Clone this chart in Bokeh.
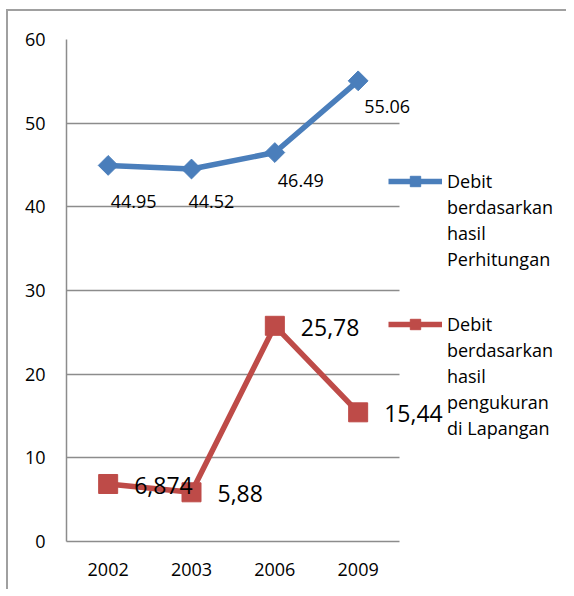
import math
from bokeh.plotting import figure
from bokeh.models import (ColumnDataSource, LabelSet, Legend, LegendItem, FixedTicker,
                          Range1d, Grid)
from bokeh.core.properties import value
from bokeh.embed import file_html
from bokeh.resources import INLINE

# ---- data ----
years = ["2002", "2003", "2006", "2009"]
perhitungan = [44.95, 44.52, 46.49, 55.06]
lapangan = [6.874, 5.88, 25.78, 15.44]
perhitungan_labels = ["44.95", "44.52", "46.49", "55.06"]
lapangan_labels = ["6,874", "5,88", "25,78", "15,44"]
legend_perhitungan = ["Debit", "berdasarkan", "hasil", "Perhitungan"]
legend_lapangan = ["Debit", "berdasarkan", "hasil", "pengukuran", "di Lapangan"]
y_ticks = [0, 10, 20, 30, 40, 50, 60]

# ---- label placement (screen-pixel offsets, style only) ----
blue_label_dx = [2.5, -3, 3, 6]
blue_label_dy = [-36, -32, -28, -26]

BLUE = "#4A7EBB"
RED = "#BE4B48"
GRID = "#8C8C8C"
FONT = "Open Sans"

n = len(years)
xs = [i + 0.5 for i in range(n)]          # category slots on the x scale
n_slots = n + 2                            # extra room on the right for the legend

p = figure(x_range=Range1d(0, n_slots), y_range=Range1d(0, 60),
           frame_width=500, frame_height=502,
           min_border_left=58, min_border_right=0,
           min_border_top=28, min_border_bottom=48,
           output_backend="svg", toolbar_location=None,
           background_fill_color="white", border_fill_color="white",
           styles={"margin-left": "6px", "margin-top": "9px",
                   "border-left": "2px solid #A0A0A0", "border-top": "2px solid #A0A0A0"})
p.outline_line_color = None

src_b = ColumnDataSource(dict(x=xs, y=perhitungan, t=perhitungan_labels,
                              dx=blue_label_dx, dy=blue_label_dy))
src_r = ColumnDataSource(dict(x=xs, y=lapangan, t=lapangan_labels))

# horizontal grid lines limited to the category area
p.xgrid.grid_line_color = None
if "cross_bounds" in Grid.properties():
    p.ygrid.ticker = FixedTicker(ticks=y_ticks)
    p.ygrid.cross_bounds = (0, n)
    p.ygrid.grid_line_color = GRID
    p.ygrid.grid_line_width = 1.5
else:
    p.ygrid.grid_line_color = None
    p.segment(x0=0, x1=n, y0=y_ticks, y1=y_ticks, line_color=GRID, line_width=1.5)

bl = p.line("x", "y", source=src_b, line_color=BLUE, line_width=5.5)
bm = p.scatter("x", "y", source=src_b, marker="square", angle=math.pi / 4, size=14,
               fill_color=BLUE, line_color=BLUE)
rl = p.line("x", "y", source=src_r, line_color=RED, line_width=5.5)
rm = p.scatter("x", "y", source=src_r, marker="square", size=19,
               fill_color=RED, line_color=RED)

p.add_layout(LabelSet(x="x", y="y", text="t", source=src_b, x_offset="dx", y_offset="dy",
                      text_align="left", text_baseline="middle",
                      text_font=value(FONT), text_font_size="18px", text_color="black"))
p.add_layout(LabelSet(x="x", y="y", text="t", source=src_r, x_offset=26, y_offset=-1.5,
                      text_align="left", text_baseline="middle",
                      text_font=value(FONT), text_font_size="23px", text_color="black"))

def make_legend(lines, renderers, loc):
    items = [LegendItem(label=value(lines[0]), renderers=renderers)]
    items += [LegendItem(label=value(t), renderers=[]) for t in lines[1:]]
    return Legend(items=items, location=loc, glyph_width=54, glyph_height=26,
                  label_height=26, label_standoff=5, spacing=0, padding=0, margin=0,
                  border_line_alpha=0, background_fill_alpha=0,
                  label_text_font=FONT, label_text_font_size="18px",
                  label_text_color="black")

p.add_layout(make_legend(legend_perhitungan, [bl, bm], (322, 269)))
p.add_layout(make_legend(legend_lapangan, [rl, rm], (322, 100)))

for ax in (p.xaxis[0], p.yaxis[0]):
    ax.axis_line_color = GRID
    ax.axis_line_width = 1.5
    ax.major_tick_line_color = None
    ax.minor_tick_line_color = None
    ax.major_label_text_font = FONT
    ax.major_label_text_font_size = "18px"
    ax.major_label_text_color = "black"

p.yaxis.ticker = FixedTicker(ticks=y_ticks)
p.yaxis.major_label_standoff = 15
p.xaxis.ticker = FixedTicker(ticks=xs)
p.xaxis.major_label_overrides = dict(zip(xs, years))
p.xaxis.bounds = (0, n)
p.xaxis.major_label_standoff = 15

open("out.html", "w").write(file_html(p, INLINE))
